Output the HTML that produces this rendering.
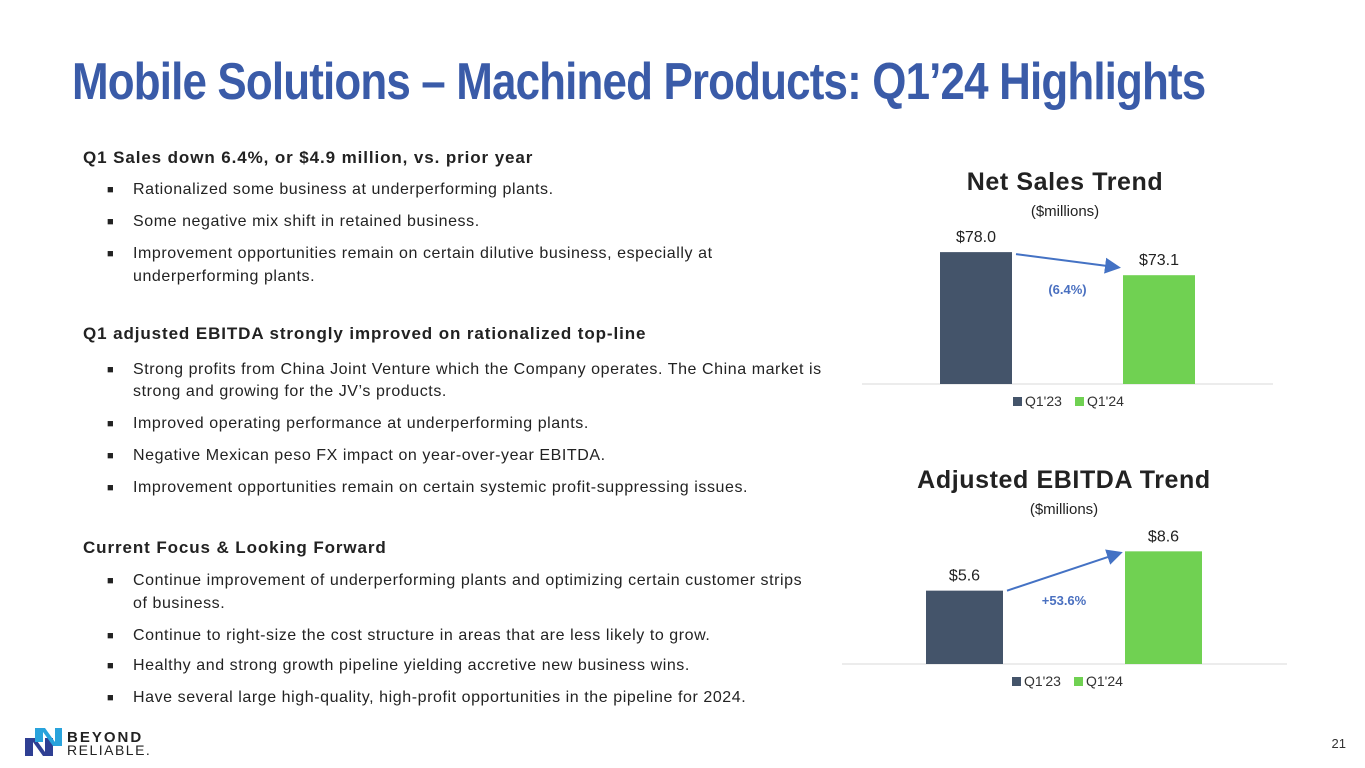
<!DOCTYPE html>
<html><head><meta charset="utf-8"><style>
body{margin:0;width:1365px;height:768px;position:relative;background:#fff;font-family:"Liberation Sans",sans-serif;color:#222;overflow:hidden}
.t{position:absolute;white-space:nowrap;font-size:16px;line-height:18px;letter-spacing:0.57px}
.h{font-weight:bold;font-size:17px;letter-spacing:0.9px}
.b{left:107px;font-size:11px;letter-spacing:0}
.x{left:133px}
#title{position:absolute;left:72px;top:52px;font-family:"Liberation Sans Narrow","Liberation Sans",sans-serif;font-weight:bold;font-size:52px;color:#3a5ba8;white-space:nowrap;letter-spacing:-1px;transform-origin:left top}
</style></head><body>
<div id="title">Mobile Solutions – Machined Products: Q1’24 Highlights</div>

<div class="t h" style="left:83px;top:149px">Q1 Sales down 6.4%, or $4.9 million, vs. prior year</div>
<div class="t b" style="top:181px">■</div><div class="t x" style="top:181px">Rationalized some business at underperforming plants.</div>
<div class="t b" style="top:213px">■</div><div class="t x" style="top:213px">Some negative mix shift in retained business.</div>
<div class="t b" style="top:245px">■</div><div class="t x" style="top:245px">Improvement opportunities remain on certain dilutive business, especially at</div>
<div class="t x" style="top:268px">underperforming plants.</div>

<div class="t h" style="left:83px;top:325px">Q1 adjusted EBITDA strongly improved on rationalized top-line</div>
<div class="t b" style="top:361px">■</div><div class="t x" style="top:361px">Strong profits from China Joint Venture which the Company operates. The China market is</div>
<div class="t x" style="top:383px">strong and growing for the JV’s products.</div>
<div class="t b" style="top:415px">■</div><div class="t x" style="top:415px">Improved operating performance at underperforming plants.</div>
<div class="t b" style="top:447px">■</div><div class="t x" style="top:447px">Negative Mexican peso FX impact on year-over-year EBITDA.</div>
<div class="t b" style="top:479px">■</div><div class="t x" style="top:479px">Improvement opportunities remain on certain systemic profit-suppressing issues.</div>

<div class="t h" style="left:83px;top:539px">Current Focus &amp; Looking Forward</div>
<div class="t b" style="top:572px">■</div><div class="t x" style="top:572px">Continue improvement of underperforming plants and optimizing certain customer strips</div>
<div class="t x" style="top:595px">of business.</div>
<div class="t b" style="top:627px">■</div><div class="t x" style="top:627px">Continue to right-size the cost structure in areas that are less likely to grow.</div>
<div class="t b" style="top:657px">■</div><div class="t x" style="top:657px">Healthy and strong growth pipeline yielding accretive new business wins.</div>
<div class="t b" style="top:689px">■</div><div class="t x" style="top:689px">Have several large high-quality, high-profit opportunities in the pipeline for 2024.</div>

<svg width="1365" height="768" style="position:absolute;left:0;top:0" id="charts" font-family="Liberation Sans, sans-serif">
<defs><marker id="ah" markerWidth="8" markerHeight="8" refX="6" refY="4" orient="auto"><path d="M0,0 L8,4 L0,8 z" fill="#4472c4"/></marker></defs>
<g>
<polygon points="25,738 35,738 45,752 45,738 53,738 53,756 43,756 33,742 33,756 25,756" fill="#2f3f93"/>
<polygon points="35,728 45,728 55,742 55,728 62,728 62,746 53,746 43,732 43,742 35,742" fill="#29a3dc"/>
<text x="67" y="742" font-size="15" font-weight="bold" fill="#222" letter-spacing="2">BEYOND</text>
<text x="67" y="755" font-size="14" fill="#222" letter-spacing="1.5">RELIABLE.</text>
</g>
<text x="1346" y="748" font-size="13" text-anchor="end" fill="#333">21</text>
</svg>
<script>
const cats=["Q1'23","Q1'24"];
const salesVals=[78.0,73.1];
const salesLabels=["$78.0","$73.1"];
const ebitdaVals=[5.6,8.6];
const ebitdaLabels=["$5.6","$8.6"];
const colors=["#44546a","#70d152"];
const svg=document.getElementById('charts');
const NS='http://www.w3.org/2000/svg';
function mk(tag,attrs,parent){const e=document.createElementNS(NS,tag);for(const k in attrs)e.setAttribute(k,attrs[k]);(parent||svg).appendChild(e);return e;}
function chart(cfg){
  const g=mk('g',{});
  
  
  const y=v=>cfg.base-(v-cfg.min)*cfg.scale;
  let t=mk('text',{x:cfg.cx,y:cfg.titleY,'font-size':25,'font-weight':'bold','text-anchor':'middle',fill:'#222','letter-spacing':0.6},g);t.textContent=cfg.title;
  
  
  t=mk('text',{x:cfg.cx,y:cfg.titleY+26,'font-size':15,'text-anchor':'middle',fill:'#222'},g);t.textContent='($millions)';
  mk('line',{x1:cfg.ax0,x2:cfg.ax1,y1:cfg.base,y2:cfg.base,stroke:'#d9d9d9'},g);
  const tops=[];
  cfg.vals.forEach((v,i)=>{
    const x=cfg.xs[i];
    const r=mk('rect',{x:x,y:y(v),width:cfg.w,height:cfg.base-y(v),fill:colors[i]},g);
    
    
    tops.push(y(v));
    const l=mk('text',{x:x+cfg.w/2,y:y(v)-10,'font-size':16,'text-anchor':'middle',fill:'#222'},g);l.textContent=cfg.labels[i];
  });
  mk('line',{x1:cfg.xs[0]+cfg.w+4,y1:tops[0]+cfg.ad[0],x2:cfg.xs[1]-6,y2:tops[1]+cfg.ad[1],stroke:'#4472c4','stroke-width':2,'marker-end':'url(#ah)'},g);
  const p=mk('text',{x:(cfg.xs[0]+cfg.w+cfg.xs[1])/2,y:cfg.pctY,'font-size':13,'font-weight':'bold','text-anchor':'middle',fill:'#4a70c0'},g);
  p.textContent=cfg.pct;
  const ly=cfg.base+22;
  cats.forEach((c,i)=>{
    const lx=cfg.cx-52+i*62;
    mk('rect',{x:lx,y:ly-9,width:9,height:9,fill:colors[i]},g);
    const e=mk('text',{x:lx+12,y:ly,'font-size':14,fill:'#333'},g);e.textContent=c;
    
    
  });
}
chart({name:'net-sales-chart',title:'Net Sales Trend',cx:1065,titleY:190,ax0:862,ax1:1273,base:384,min:50,scale:4.71,xs:[940,1123],w:72,vals:salesVals,labels:salesLabels,pct:'(6.4%)',pctY:294,ad:[2,-8]});
chart({name:'ebitda-chart',title:'Adjusted EBITDA Trend',cx:1064,titleY:488,ax0:842,ax1:1287,base:664,min:0,scale:13.1,xs:[926,1125],w:77,vals:ebitdaVals,labels:ebitdaLabels,pct:'+53.6%',pctY:605,ad:[0,2]});
const ti=document.getElementById('title');
ti.style.transform='scaleX('+(1133/ti.offsetWidth)+')';
</script>
</body></html>
